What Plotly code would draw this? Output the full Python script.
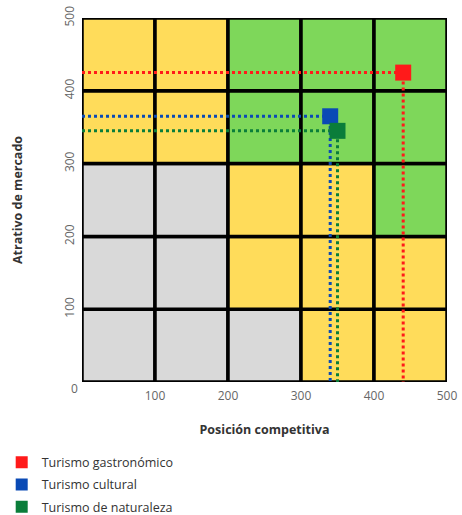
import plotly.graph_objects as go

# Data
series_names = ["Turismo gastronómico", "Turismo cultural", "Turismo de naturaleza"]
pos_competitiva = [440, 340, 350]
atrativo_mercado = [425, 365, 345]
series_colors = ["#FF1A1A", "#0A4AB5", "#0A7D3A"]

# Matrix zones (rows bottom->top, columns left->right), each cell 100x100
cell_size = 100
zone_rows = [
    ["grey", "grey", "grey", "yellow", "yellow"],
    ["grey", "grey", "yellow", "yellow", "yellow"],
    ["grey", "grey", "yellow", "yellow", "green"],
    ["yellow", "yellow", "green", "green", "green"],
    ["yellow", "yellow", "green", "green", "green"],
]
zone_colors = {"grey": "#D9D9D9", "yellow": "#FFDC5A", "green": "#7ED75A"}
tick_vals = [100, 200, 300, 400, 500]

fig = go.Figure()

shapes = []
for r, row in enumerate(zone_rows):
    for c, z in enumerate(row):
        shapes.append(dict(
            type="rect", xref="x", yref="y",
            x0=c * cell_size, x1=(c + 1) * cell_size,
            y0=r * cell_size, y1=(r + 1) * cell_size,
            fillcolor=zone_colors[z], line=dict(color="black", width=3.5),
            layer="below",
        ))

# Dotted guide lines
for name, x, y, col in zip(series_names, pos_competitiva, atrativo_mercado, series_colors):
    fig.add_trace(go.Scatter(
        x=[0, x, x], y=[y, y, 0], mode="lines",
        line=dict(color=col, width=3, dash="dot"),
        showlegend=False, hoverinfo="skip",
    ))

for i, (name, x, y, col) in enumerate(zip(series_names, pos_competitiva, atrativo_mercado, series_colors)):
    fig.add_trace(go.Scatter(
        x=[x], y=[y], mode="markers", name=name, legendgroup=f"g{i}",
        marker=dict(symbol="square", size=16, color=col),
    ))

fig.update_layout(
    width=462, height=515,
    margin=dict(l=82, r=15, t=18, b=133, autoexpand=False),
    paper_bgcolor="white", plot_bgcolor="white",
    shapes=shapes,
    font=dict(family="Open Sans", size=12, color="#666666"),
    xaxis=dict(range=[0, 500], tickvals=tick_vals, showgrid=False, zeroline=False,
               ticks="", ticklen=0, automargin=False, ticklabelstandoff=5,
               ticklabeloverflow="allow",
               tickfont=dict(size=12, color="#666666"),
               title=dict(text="<b>Posición competitiva</b>", font=dict(size=12.5, color="#333333"), standoff=22)),
    yaxis=dict(range=[0, 500], tickvals=tick_vals, showgrid=False, zeroline=False,
               ticks="", tickangle=-90, automargin=False, ticklabelstandoff=5,
               ticklabeloverflow="allow",
               tickfont=dict(size=12, color="#666666"),
               title=dict(text="<b>Atrativo de mercado</b>", font=dict(size=12.5, color="#333333"), standoff=35)),
    legend=dict(orientation="v", x=-0.22, xanchor="left", y=-0.18, yanchor="top",
                font=dict(size=12.5, color="#333333"), itemsizing="constant",
                itemwidth=30, tracegroupgap=3),
    annotations=[dict(text="0", x=0, y=0, xref="x", yref="y", showarrow=False,
                      xshift=-8, yshift=-6, font=dict(size=12, color="#666666"))],
)

fig.write_html("out.html", config={"displayModeBar": False},
               post_script="document.body.style.margin='0';")
